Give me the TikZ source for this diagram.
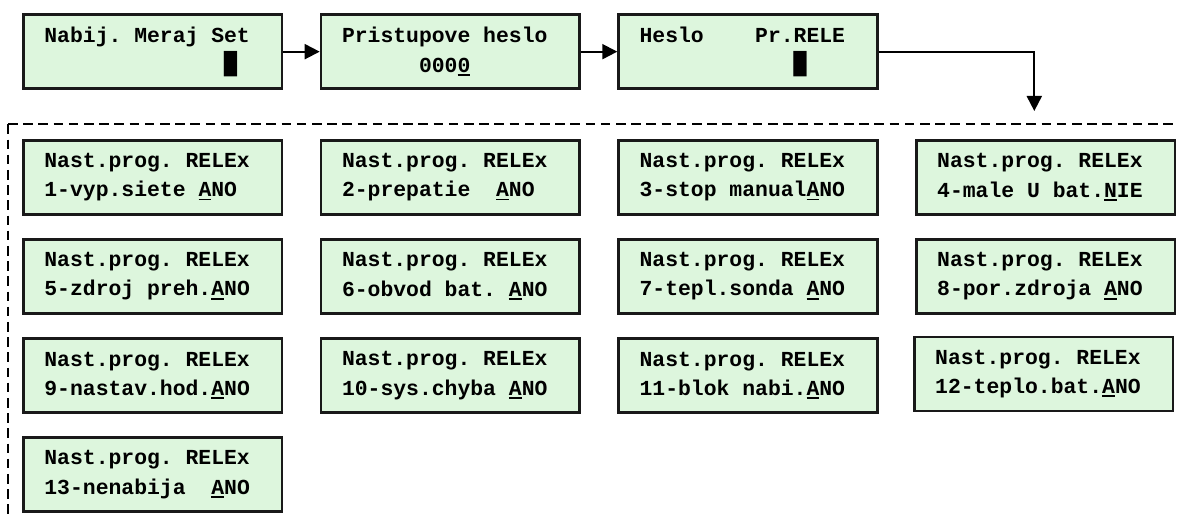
\documentclass[tikz,border=0pt]{standalone}
\usepackage{fontspec}
\usetikzlibrary{arrows.meta, positioning}
\newfontfamily\lcdface{Liberation Mono}
\newfontfamily\blockface{DejaVu Sans Mono}
\definecolor{lcdgreen}{RGB}{221,246,221}
\newcommand\lcdfont{\lcdface\bfseries\fontsize{10.7pt}{14.7pt}\selectfont}
\newcommand\lcdul[1]{\rlap{\rule[-1.8pt]{0.6em}{0.9pt}}#1}
\newcommand\lcdblock{{\blockface █}}

\begin{document}
\begin{tikzpicture}[
    node distance=11.25pt and 18.2pt,
    lcd/.style={draw=black!90, line width=1.3pt, fill=lcdgreen, text width=108.3pt, inner xsep=10.5pt, minimum height=37pt, align=left, font=\lcdfont,
        execute at begin node={\spaceskip=6.42pt\xspaceskip=6.42pt}},
    arrow/.style={-{Triangle[length=7.5pt, width=7.5pt]}, line width=1pt}
]
\useasboundingbox (0,0) rectangle (588.5pt,-259.5pt);

% Nodes
\node (nabij) [lcd] at (76.35pt,-25.83pt) {Nabij. Meraj Set\\\hspace*{8.4em}\lcdblock};
\node (heslo) [lcd, right=of nabij] {Pristupove heslo\\\hspace*{3.6em}000\lcdul{0}};
\node (rele) [lcd, right=of heslo] {Heslo~~~~Pr.RELE\\\hspace*{7.2em}\lcdblock};
\coordinate (entry) at (517.15pt,-55.5pt);

\node (relex1) [lcd, below=24.5pt of nabij] {Nast.prog. RELEx\\1-vyp.siete \lcdul{A}NO};
\node (relex2) [lcd, right=of relex1] {Nast.prog. RELEx\\2-prepatie~~\lcdul{A}NO};
\node (relex3) [lcd, right=of relex2] {Nast.prog. RELEx\\3-stop manual\lcdul{A}NO};
\node (relex4) [lcd, right=of relex3] {Nast.prog. RELEx\\4-male U bat.\lcdul{N}IE};
\node (relex5) [lcd, below=of relex1] {Nast.prog. RELEx\\5-zdroj preh.\lcdul{A}NO};
\node (relex6) [lcd, below=of relex2] {Nast.prog. RELEx\\6-obvod bat. \lcdul{A}NO};
\node (relex7) [lcd, below=of relex3] {Nast.prog. RELEx\\7-tepl.sonda \lcdul{A}NO};
\node (relex8) [lcd, below=of relex4] {Nast.prog. RELEx\\8-por.zdroja \lcdul{A}NO};
\node (relex9) [lcd, below=of relex5] {Nast.prog. RELEx\\9-nastav.hod.\lcdul{A}NO};
\node (relex10) [lcd, below=of relex6] {Nast.prog. RELEx\\10-sys.chyba \lcdul{A}NO};
\node (relex11) [lcd, below=of relex7] {Nast.prog. RELEx\\11-blok nabi.\lcdul{A}NO};
\node (relex12) [lcd, below=of relex8, xshift=-1pt, yshift=0.8pt] {Nast.prog. RELEx\\12-teplo.bat.\lcdul{A}NO};
\node (relex13) [lcd, below=of relex9] {Nast.prog. RELEx\\13-nenabija~~\lcdul{A}NO};

% Edges
\draw [arrow] (nabij) -- (heslo);
\draw [arrow] (heslo) -- (rele);
\draw [arrow] (rele.east) -| (entry);

% dashed frame round the menu
\draw [line width=1pt, dash pattern=on 4.8pt off 2.8pt] (4pt,-62.15pt) -- (4pt,-259.5pt);
\draw [line width=1pt, dash pattern=on 4.8pt off 2.8pt] (4pt,-62.15pt) -- (588.5pt,-62.15pt);

\end{tikzpicture}
\end{document}
